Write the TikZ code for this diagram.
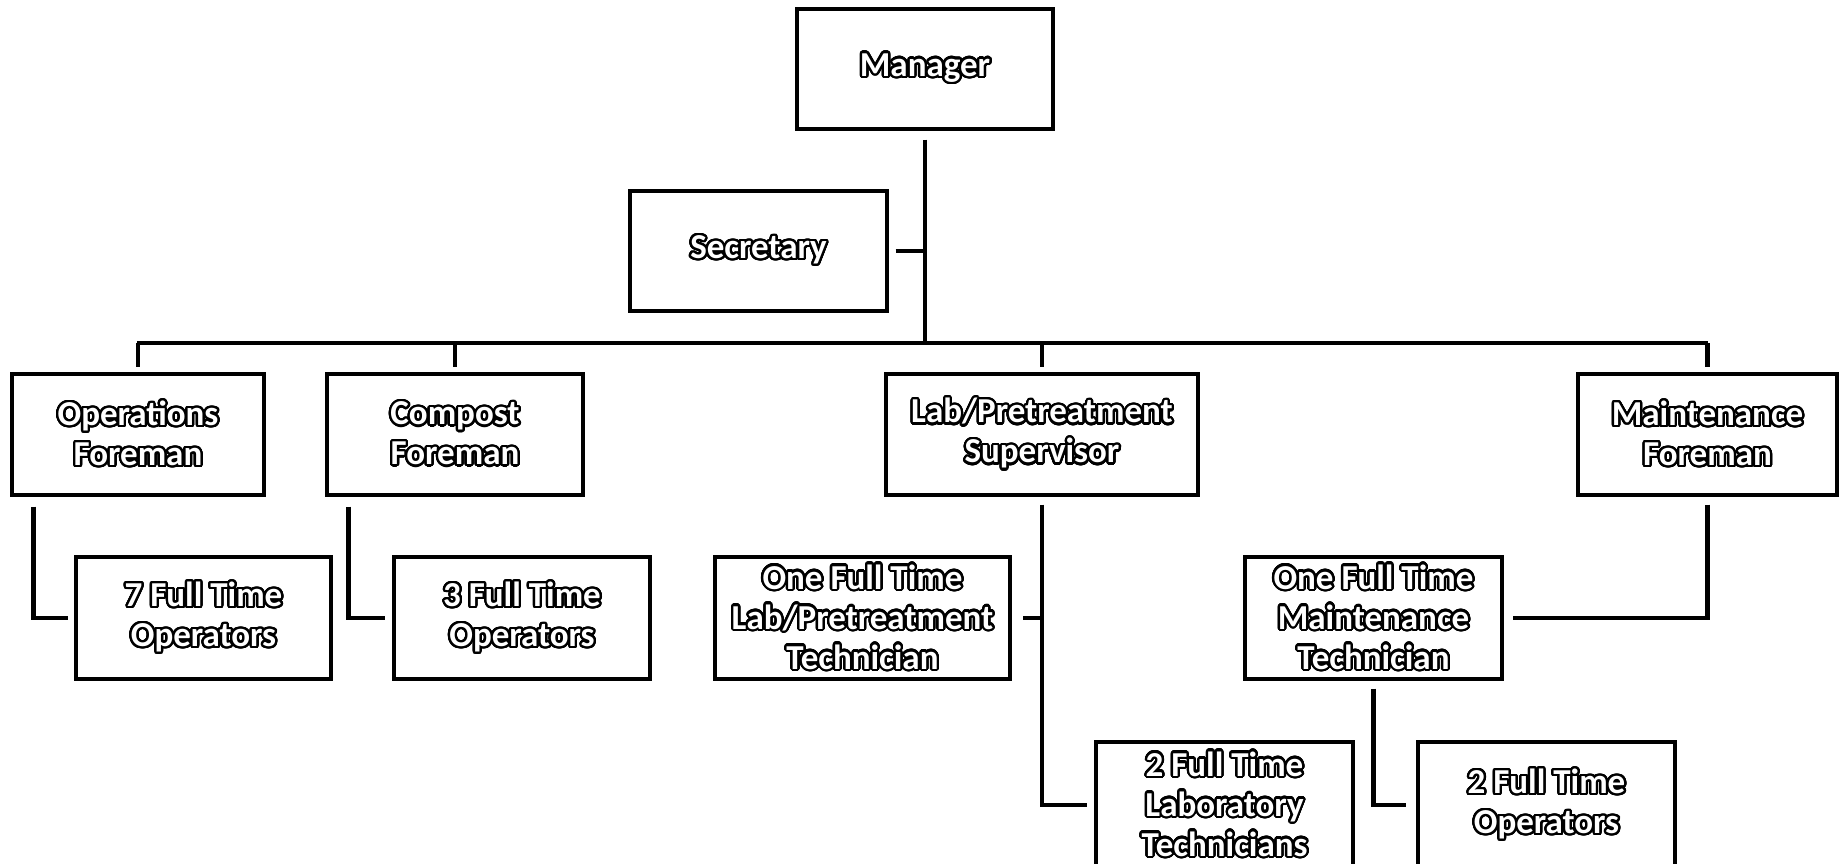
\documentclass[tikz,border=0pt]{standalone}
\usepackage{fontspec}
\setmainfont{Carlito}
\usepackage{contour}
\contourlength{2.3pt}
\contournumber{32}
\usetikzlibrary{calc}
\newcommand{\outl}[1]{\contour{black}{#1}}
\tikzset{
  box/.style={draw=black, line width=3.3pt, fill=white, inner sep=0pt, align=center,
    text=white, font=\fontsize{35}{40}\selectfont\bfseries},
  conn/.style={draw=black, line width=4.5pt}
}
\begin{document}
\begin{tikzpicture}[x=1pt, y=-1pt]
\useasboundingbox (0,0) rectangle (1840,863);
\fill[white] (0,0) rectangle (1840,863);
\clip (0,0) rectangle (1840,863);
% level 0/1
\node[box, minimum width=256pt, minimum height=120pt] (mgr) at (925,69) {\outl{Manager}};
\node[box, minimum width=257pt, minimum height=120pt] (sec) at (758.5,251) {\outl{Secretary}};
% level 2
\node[box, minimum width=252pt, minimum height=121pt] (opsF) at (138,434.5) {\outl{Operations}\\\outl{Foreman}};
\node[box, minimum width=256pt, minimum height=121pt] (compF) at (455,434.5) {\outl{Compost}\\\outl{Foreman}};
\node[box, minimum width=312pt, minimum height=121pt] (labS) at (1042,434.5) {\outl{Lab/Pretreatment}\\\outl{Supervisor}};
\node[box, minimum width=259pt, minimum height=121pt] (mF) at (1707.5,434.5) {\outl{Maintenance}\\\outl{Foreman}};
% level 3
\node[box, minimum width=255pt, minimum height=122pt] (op7) at (203.5,618) {\outl{7 Full Time}\\\outl{Operators}};
\node[box, minimum width=256pt, minimum height=122pt] (op3) at (522,618) {\outl{3 Full Time}\\\outl{Operators}};
\node[box, minimum width=295pt, minimum height=122pt] (labT1) at (862.5,618) {\outl{One Full Time}\\\outl{Lab/Pretreatment}\\\outl{Technician}};
\node[box, minimum width=257pt, minimum height=122pt] (mT1) at (1373.5,618) {\outl{One Full Time}\\\outl{Maintenance}\\\outl{Technician}};
% level 4
\node[box, minimum width=257pt, minimum height=126pt] (labT2) at (1224.5,805) {\outl{2 Full Time}\\\outl{Laboratory}\\\outl{Technicians}};
\node[box, minimum width=257pt, minimum height=126pt] (op2) at (1546.5,805) {\outl{2 Full Time}\\\outl{Operators}};
% bus
\coordinate (busL) at (137,343);
\coordinate (busR) at (1707.5,343);
\draw[conn] ([yshift=-9pt]mgr.south) -- (mgr.south |- busL);
\draw[conn] ([xshift=7pt]sec.east) -- (sec.east -| mgr.south);
\draw[conn] (busL) -- (busR);
\draw[conn] (opsF.north |- busL) -- ([yshift=5pt]opsF.north);
\draw[conn] (compF.north |- busL) -- ([yshift=5pt]compF.north);
\draw[conn] (labS.north |- busL) -- ([yshift=5pt]labS.north);
\draw[conn] (mF.north |- busL) -- ([yshift=5pt]mF.north);
% branches
\draw[conn] ([xshift=23pt,yshift=-10pt]opsF.south west) |- ([xshift=-6pt]op7.west);
\draw[conn] ([xshift=23pt,yshift=-10pt]compF.south west) |- ([xshift=-7pt]op3.west);
\draw[conn] ([yshift=-8pt]labS.south) |- ([xshift=-7pt]labT2.west);
\draw[conn] (labS.south |- labT1.east) -- ([xshift=11pt]labT1.east);
\draw[conn] ([yshift=-8pt]mF.south) |- ([xshift=9pt]mT1.east);
\draw[conn] ([yshift=-8pt]mT1.south) |- ([xshift=-10pt]op2.west);
\end{tikzpicture}
\end{document}
